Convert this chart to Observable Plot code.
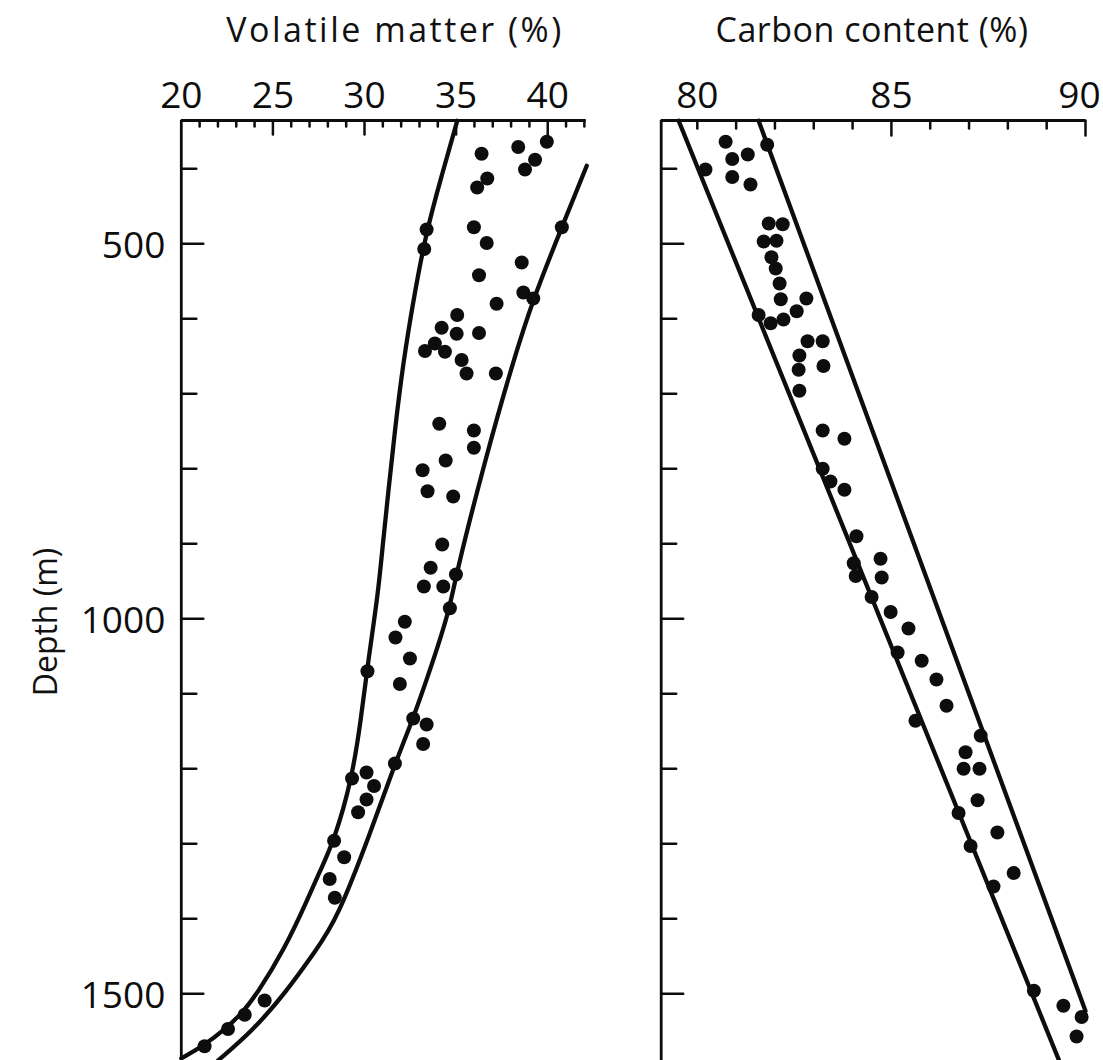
<!DOCTYPE html>
<html><head><meta charset="utf-8">
<script src="https://cdn.jsdelivr.net/npm/d3@7"></script>
<script src="https://cdn.jsdelivr.net/npm/@observablehq/plot@0.6"></script>
<style>
html,body{margin:0;padding:0;background:#fff;overflow:hidden;}
#chart{position:relative;width:1103px;height:1060px;font-family:"Open Sans",sans-serif;color:#111;}
#chart svg{position:absolute;top:0;overflow:visible;}
.title{position:absolute;top:6px;font-size:34px;white-space:nowrap;transform:translateX(-50%);line-height:46px;}
.ylab{position:absolute;left:45px;top:622px;font-size:32px;white-space:nowrap;line-height:36px;transform:translate(-50%,-50%) rotate(-90deg);}
</style></head><body><div id="chart"></div>
<script>
// ---- axes ----
const volDomain = [20, 42.1];
const carbonDomain = [79.07, 90];
const depthDomain = [335.6, 1588.9];
const volMajor = [20, 25, 30, 35, 40];
const volMinor = [21,22,23,24,26,27,28,29,31,32,33,34,36,37,38,39,41,42];
const volMajorTicks = [25, 30, 35, 40];
const carbonMajor = [80, 85, 90];
const carbonMinor = [80,81,82,83,84,86,87,88,89];
const carbonMajorTicks = [85, 90];
const depthMajor = [500, 1000, 1500];
const depthMinor = [400,600,700,800,900,1100,1200,1300,1400];

// ---- volatile matter data points ----
const volValue = [39.95,38.39,39.31,38.76,36.39,36.70,36.15,33.39,33.26,35.97,36.67,40.77,38.58,36.25,38.67,39.21,37.21,35.06,34.21,35.03,36.25,33.84,33.30,34.39,35.30,35.57,37.17,34.08,35.97,35.97,34.43,33.17,33.44,34.84,34.24,33.61,34.99,33.24,34.30,34.66,32.20,31.69,32.48,30.16,31.93,32.66,33.39,33.20,31.66,30.11,29.32,30.52,30.11,29.65,28.34,28.89,28.10,28.38,24.55,23.46,22.55,21.27];
const volDepth = [364,371,388,401,380,413,425,481,507,478,499,478,525,542,565,573,580,595,612,620,619,633,643,644,655,673,673,740,749,772,789,802,830,837,901,932,941,957,957,986,1004,1025,1053,1070,1087,1133,1141,1167,1193,1205,1213,1223,1241,1258,1296,1318,1347,1372,1509,1528,1547,1570];

// ---- volatile matter envelope curves ----
const volLeftX = [35.06,34.2,33.39,32.7,32.1,31.65,31.29,31.0,30.74,30.2,29.8,29.32,28.34,27.57,26.86,25.6,24.13,23.31,22.44,21.18,20.0];
const volLeftDepth = [336,410,482,570,660,750,833,900,967,1056,1135,1213,1296,1336,1376,1442,1500,1526,1546,1570,1586];
const volRightX = [42.13,40.77,39.21,38.07,36.57,34.99,34.66,33.75,32.66,31.66,30.3,28.47,27.35,25.65,23.9,22.0];
const volRightDepth = [396,478,573,660,789,941,986,1056,1133,1193,1287,1402,1442,1500,1549,1589];

// ---- carbon content data points ----
const carbonValue = [80.73,81.80,80.90,81.30,80.21,80.90,81.37,81.84,82.20,81.71,82.04,81.91,82.02,82.12,82.15,82.81,81.58,81.89,82.22,82.56,82.84,83.23,82.63,83.25,82.61,82.63,83.23,83.79,83.23,83.43,83.79,84.10,84.03,84.72,84.08,84.75,84.49,84.98,85.44,85.16,85.78,86.16,86.42,85.62,87.30,86.91,86.86,87.27,87.22,86.73,87.73,87.04,88.15,87.63,88.67,89.43,89.90,89.77];
const carbonDepth = [364,368,387,381,401,411,421,473,474,497,496,518,533,553,574,573,595,606,601,590,630,630,649,663,668,696,749,760,800,817,828,890,926,920,943,945,971,991,1013,1045,1056,1081,1116,1136,1156,1178,1200,1200,1242,1259,1285,1303,1339,1357,1496,1516,1531,1557];

// ---- carbon content envelope lines ----
const carbonLeftX = [79.52, 89.32];
const carbonLeftDepth = [336, 1589];
const carbonRightX = [81.58, 90];
const carbonRightDepth = [336, 1523];

const ink = "#0d0d0d";
const zip = (xs, ys) => xs.map((v, i) => ({v, d: ys[i]}));
const tickShape = {draw(ctx, l) { ctx.moveTo(0, 0); ctx.lineTo(0, -l); }};
const font = "Open Sans, sans-serif";

function ticksX(values, len) {
  return Plot.vector(values, {x: d => d, frameAnchor: "top", length: len, rotate: 180, anchor: "start", shape: tickShape, stroke: ink, strokeWidth: 2.5});
}
function ticksY(values, len) {
  return Plot.vector(values, {y: d => d, frameAnchor: "left", length: len, rotate: 90, anchor: "start", shape: tickShape, stroke: ink, strokeWidth: 2.5});
}

const left = Plot.plot({
  width: 620, height: 1060,
  marginLeft: 180.8, marginRight: 620 - 585.7, marginTop: 120, marginBottom: 0,
  style: {fontFamily: font, background: "transparent"},
  x: {domain: volDomain, axis: null},
  y: {domain: depthDomain, reverse: true, axis: null},
  marks: [
    Plot.ruleY([depthDomain[0]], {stroke: ink, strokeWidth: 2.8}),
    Plot.ruleX([volDomain[0]], {stroke: ink, strokeWidth: 2.8}),
    ticksX(volMinor, 6),
    ticksX(volMajorTicks, 14),
    ticksY(depthMinor, 15),
    ticksY(depthMajor, 22),
    Plot.text(volMajor, {x: d => d, frameAnchor: "top", lineAnchor: "bottom", dy: -13, text: d => String(d), fontSize: 37, fill: ink}),
    Plot.text(depthMajor, {y: d => d, frameAnchor: "left", textAnchor: "end", dx: -16, dy: 2, text: d => String(d), fontSize: 37, fill: ink}),
    Plot.line(zip(volLeftX, volLeftDepth), {x: "v", y: "d", curve: "basis", stroke: ink, strokeWidth: 4.3}),
    Plot.line(zip(volRightX, volRightDepth), {x: "v", y: "d", curve: "basis", stroke: ink, strokeWidth: 4.3}),
    Plot.dot(zip(volValue, volDepth), {x: "v", y: "d", r: 7, fill: ink, stroke: "none"})
  ]
});
left.style.left = "0px";

const right = Plot.plot({
  width: 503, height: 1060,
  marginLeft: 60.7, marginRight: 18, marginTop: 120, marginBottom: 0,
  style: {fontFamily: font, background: "transparent"},
  x: {domain: carbonDomain, axis: null},
  y: {domain: depthDomain, reverse: true, axis: null},
  marks: [
    Plot.ruleY([depthDomain[0]], {stroke: ink, strokeWidth: 2.8}),
    Plot.ruleX([carbonDomain[0]], {stroke: ink, strokeWidth: 2.8}),
    ticksX(carbonMinor, 8),
    ticksX(carbonMajorTicks, 15),
    ticksY(depthMinor, 15),
    ticksY(depthMajor, 22),
    Plot.text(carbonMajor.filter(v => v < 90), {x: d => d, frameAnchor: "top", lineAnchor: "bottom", dy: -13, text: d => String(d), fontSize: 37, fill: ink}),
    Plot.text(carbonMajor.filter(v => v >= 90), {x: d => d, frameAnchor: "top", lineAnchor: "bottom", dy: -13, dx: -6, text: d => String(d), fontSize: 37, fill: ink}),
    Plot.line(zip(carbonLeftX, carbonLeftDepth), {x: "v", y: "d", stroke: ink, strokeWidth: 4.3}),
    Plot.line(zip(carbonRightX, carbonRightDepth), {x: "v", y: "d", stroke: ink, strokeWidth: 4.3}),
    Plot.dot(zip(carbonValue, carbonDepth), {x: "v", y: "d", r: 7, fill: ink, stroke: "none"})
  ]
});
right.style.left = "600px";

const chart = document.getElementById("chart");
chart.append(left, right);
const t1 = document.createElement("div"); t1.className = "title"; t1.style.left = "395px"; t1.style.letterSpacing = "2.5px"; t1.textContent = "Volatile matter (%)";
const t2 = document.createElement("div"); t2.className = "title"; t2.style.left = "872px"; t2.style.letterSpacing = "0.5px"; t2.textContent = "Carbon content (%)";
const yl = document.createElement("div"); yl.className = "ylab"; yl.textContent = "Depth (m)";
chart.append(t1, t2, yl);
</script>
</body></html>
